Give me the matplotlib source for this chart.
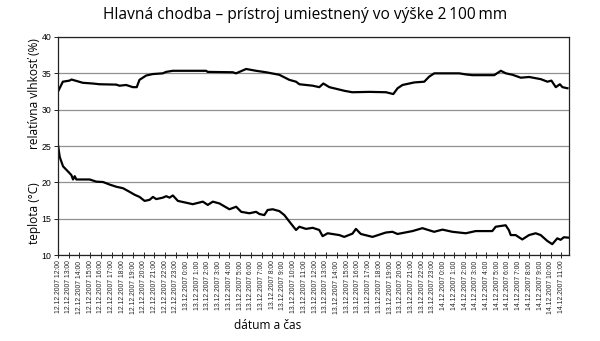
import matplotlib
matplotlib.use("Agg")
import matplotlib.pyplot as plt

# hours since 12.12.2007 12:00
hum_t = [0.0, 0.45, 1.07, 1.26, 2.31, 3.25, 3.87, 5.43, 5.74, 6.36, 6.98, 7.35,
         7.6, 8.23, 8.84, 9.78, 10.09, 10.71, 13.82, 13.97, 16.31, 16.62, 17.56,
         18.49, 19.42, 20.66, 21.6, 22.22, 22.53, 23.77, 24.39, 24.77, 25.33,
         26.73, 27.47, 29.06, 30.62, 31.3, 31.7, 32.16, 33.26, 34.19, 34.65,
         35.12, 37.45, 38.08, 38.67, 40.72, 41.34, 41.81, 42.43, 43.2, 43.98,
         45.07, 45.69, 46.06, 46.47, 46.85, 47.09, 47.56]
hum = [32.5, 33.85, 34.0, 34.15, 33.7, 33.6, 33.5, 33.45, 33.3, 33.4, 33.1, 33.1,
       34.1, 34.7, 34.9, 35.0, 35.2, 35.35, 35.35, 35.2, 35.15, 35.0, 35.6,
       35.35, 35.15, 34.8, 34.1, 33.85, 33.5, 33.3, 33.1, 33.6, 33.1,
       32.6, 32.4, 32.45, 32.4, 32.15, 32.95, 33.4, 33.75, 33.85, 34.55,
       35.0, 35.0, 34.85, 34.75, 34.75, 35.35, 35.0, 34.8, 34.4, 34.5,
       34.2, 33.85, 34.0, 33.1, 33.5, 33.1, 32.95]

temp_t = [0.0, 0.16, 0.47, 0.93, 1.25, 1.4, 1.56, 1.71, 2.95, 3.58, 4.2, 4.82,
          5.44, 6.06, 6.68, 7.15, 7.61, 8.08, 8.55, 8.86, 9.17, 9.79, 10.1,
          10.41, 10.72, 11.19, 11.97, 12.58, 13.52, 13.98, 14.45, 15.07, 16.0,
          16.63, 17.1, 17.87, 18.49, 18.8, 19.26, 19.57, 20.04, 20.66, 21.13,
          21.6, 22.22, 22.53, 23.15, 23.77, 24.39, 24.7, 25.17, 26.26, 26.72,
          27.49, 27.81, 28.27, 29.36, 30.6, 31.22, 31.69, 33.09, 34.02, 35.11,
          35.89, 36.82, 38.07, 38.99, 40.54, 40.86, 41.79, 42.1, 42.26, 42.72,
          43.34, 43.97, 44.59, 45.06, 45.67, 46.14, 46.61, 46.92, 47.22, 47.62]
temp = [25.1, 23.5, 22.2, 21.5, 21.0, 20.4, 20.85, 20.4, 20.4, 20.1, 20.05, 19.7,
        19.4, 19.2, 18.7, 18.3, 18.0, 17.45, 17.6, 18.0, 17.7, 17.9, 18.1,
        17.9, 18.2, 17.45, 17.2, 17.0, 17.35, 16.9, 17.35, 17.1, 16.3,
        16.65, 15.95, 15.75, 15.95, 15.65, 15.5, 16.2, 16.3, 16.05, 15.5,
        14.6, 13.45, 13.9, 13.6, 13.75, 13.45, 12.6, 13.0, 12.75, 12.5,
        12.95, 13.6, 12.9, 12.5, 13.1, 13.2, 12.9, 13.3, 13.7, 13.2,
        13.5, 13.2, 13.0, 13.3, 13.3, 13.9, 14.1, 13.4, 12.75, 12.75,
        12.15, 12.75, 13.0, 12.75, 11.95, 11.5, 12.3, 12.1, 12.45, 12.4]

tick_labels = ([f"12.12.2007 {h}:00" for h in range(12, 24)]
               + [f"13.12.2007 {h}:00" for h in range(0, 24)]
               + [f"14.12.2007 {h}:00" for h in range(0, 12)])

fig = plt.figure(figsize=(6, 3.41), dpi=100)
ax = fig.add_axes([0.0967, 0.252, 0.8516, 0.6395])

ax.plot(hum_t, hum, color="black", lw=1.6)
ax.plot(temp_t, temp, color="black", lw=1.6)

ax.set_xlim(0, 47.7)
ax.set_ylim(10, 40)
ax.set_yticks(range(10, 41, 5))
ax.set_xticks(range(len(tick_labels)))
ax.set_xticklabels(tick_labels, rotation=90, fontsize=4.9,
                   family="Liberation Sans", color="#222222")
for lbl in ax.get_yticklabels():
    lbl.set_fontsize(6.3)
    lbl.set_family("Liberation Sans")

ax.grid(axis="y", color="#909090", lw=0.9)
ax.set_axisbelow(True)
ax.tick_params(axis="x", direction="inout", length=4, width=0.6, pad=2)
ax.tick_params(axis="y", direction="out", length=3, width=0.6, pad=2)
for s in ax.spines.values():
    s.set_linewidth(0.9)
    s.set_color("#222222")

fig.text(0.508, 0.955, "Hlavná chodba – prístroj umiestnený vo výške 2\u2009100\u2009mm",
         ha="center", va="center", fontsize=11.2, family="Open Sans")
fig.text(0.058, 0.725, "relatívna vlhkosť (%)", rotation=90, ha="center",
         va="center", fontsize=8.6, family="Open Sans")
fig.text(0.058, 0.375, "teplota (°C)", rotation=90, ha="center",
         va="center", fontsize=8.6, family="Open Sans")
fig.text(0.446, 0.045, "dátum a čas", ha="center", va="center",
         fontsize=8.6, family="Open Sans")

fig.savefig("out.png", dpi=100)
